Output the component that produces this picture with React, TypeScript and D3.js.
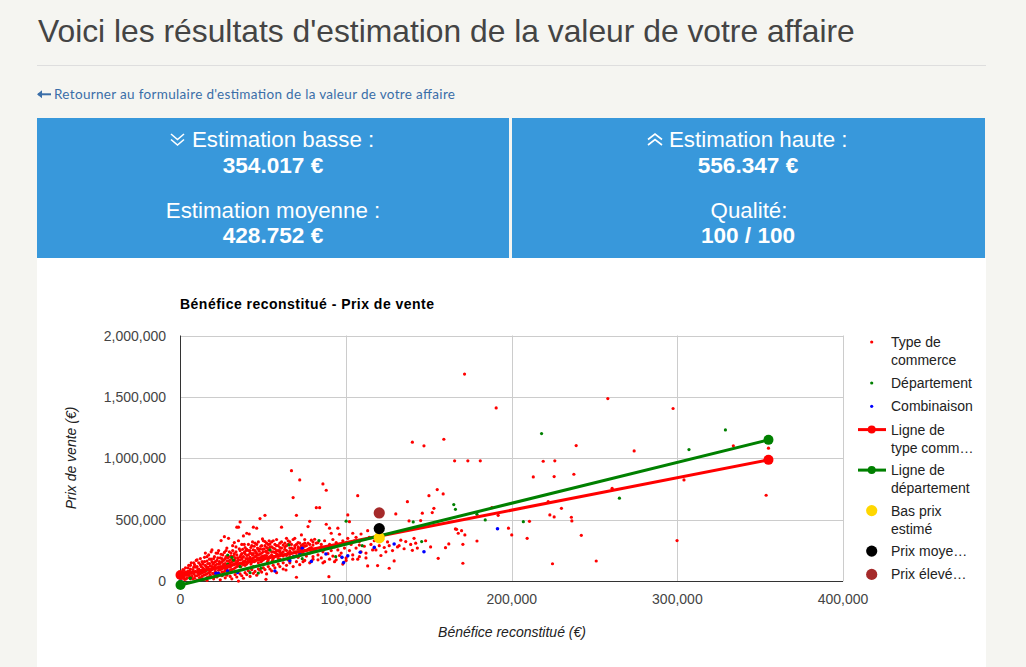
import React from "react";
import * as d3 from "d3";

// ---- data (values in thousands of euros: [bénéfice, prix]) ----
const typeCommerceK: [number, number][] = [
  [0.5,40],[1,25],[1.5,60],[2,90],[2.5,15],[3,50],[3.5,75],[4,30],[4.5,110],[5,55],[5.5,85],[6,20],[6,130],[6.5,65],[7,40],[7.5,95],[8,150],[8,60],[8.5,25],[9,80],[9.5,115],[10,45],[10,175],[10.5,70],[11,100],[11.5,30],[11.8,16],[12,135],[12,60],[12.5,90],[13,160],[13,40],[13.5,110],[14,75],[14.5,195],[15,55],[15,130],[15.5,95],[16,165],[16,30],[16.5,115],[17,70],[17,215],[17.5,145],[18,90],[18,50],[18.5,180],[19,120],[19,255],[19.5,65],[20,100],[20,150],[20.5,200],[21,80],[21,130],[21.5,45],[22,170],[22,110],[22.5,230],[23,90],[23,140],[23.5,60],[24,190],[24,120],[24.5,331],[25,100],[25,160],[25.5,215],[26,75],[26,140],[26.5,363],[27,185],[27,105],[27.5,250],[28,130],[28,165],[28.5,85],[29,350],[29,200],[29.5,145],[30,115],[30,175],[30.5,230],[31,95],[31,155],[31.5,290],[32,135],[32,205],[32.5,315],[33,170],[33,110],[33.5,240],[34,440],[34,150],[34.5,190],[35,440],[35,125],[35,2],[35.5,265],[36,483],[36,175],[36.5,215],[37,145],[37,300],[37.5,195],[38,369],[38,160],[38.5,235],[39,130],[39,275],[39.5,185],[40,391],[40,210],[40.5,150],[41,250],[41,170],[41.5,385],[42,195],[42,230],[42.5,140],[43,290],[43,180],[43.5,215],[44,440],[44,255],[44.5,160],[45,200],[45,310],[45.5,235],[46,432],[46,175],[46.5,270],[47,215],[47,150],[47.5,245],[48,510],[48,190],[48.5,285],[49,230],[49,165],[49.5,260],[50,205],[50,330],[50.5,185],[51,537],[51,323],[51.5,245],[51.6,16],[52,210],[52,275],[52.5,160],[53,300],[53,230],[53.5,195],[54,304],[54,255],[55,215],[55,280],[55.5,170],[56,240],[56,330],[57,200],[57,265],[58,290],[58,225],[59,185],[59,250],[60,275],[60,310],
  [1,45],[1.5,95],[2,35],[2.5,70],[3,110],[3.5,20],[4,55],[4.5,80],[5,130],[5.5,40],[6,100],[6.5,150],[7,75],[7.5,20],[8,115],[8.5,135],[9,45],[9.5,170],[10,120],[10.5,95],
  [11,55],[11,150],[11.5,80],[12,185],[12.5,120],[13,70],[13.5,140],[14,100],[14,50],[14.5,160],[15,80],[15,230],[15.5,120],[16,60],[16,200],[16.5,145],[17,100],[17,35],[17.5,180],[18,125],[18,75],[18.5,240],[19,95],[19,160],[19.5,140],[20,60],[20,185],[20.5,115],
  [21,160],[21,100],[21.5,230],[22,65],[22,140],[22.5,190],[23,115],[23,250],[23.5,160],[24,95],[24,145],[24.5,220],[25,75],[25,185],[25.5,125],[26,110],[26,170],[26.5,235],[27,85],[27,145],[27.5,200],[28,105],[28,270],[28.5,190],[29,120],[29,165],[29.5,240],[30,90],[30,150],[30.5,205],
  [31,130],[31,180],[31.5,250],[32,100],[32,165],[32.5,225],[33,145],[33,190],[33.5,280],[34,120],[34,215],[34.5,165],[35,175],[35,330],[35.5,140],[36,200],[36,250],[36.5,120],[37,180],[37,225],[37.5,260],[38,135],[38,200],[38.5,300],[39,165],[39,225],[39.5,250],[40,140],[40,260],[40.5,185],
  [41,215],[41,300],[41.5,160],[42,250],[42,180],[42.5,275],[43,155],[43,225],[43.5,320],[44,190],[44,225],[44.5,285],[45,165],[45,250],[45.5,205],[46,300],[46,225],[46.5,190],[47,260],[47,320],[47.5,180],[48,220],[48,265],[48.5,160],[49,290],[49,200],[49.5,345],[50,240],[50,175],[50.5,265],
  [51,210],[51,290],[51.5,190],[52,310],[52,235],[52.5,270],[53,175],[53,255],[53.5,330],[54,200],[54,280],[55,240],[55,320],[55.5,205],[56,270],[56,185],[57,300],[57,235],[58,250],[58,340],[59,215],[59,290],[60,235],[60,250],
  [61,270],[61,320],[62,240],[62,205],[63,310],[63,280],[64,250],[64,290],[65,230],[65,330],[66,270],[66,200],[67,300],[67,230],[68,260],[68,340],[69,240],[69,270],[70,300],[70,210],[71,260],[71,280],[72,240],[72,310],[73,290],[73,260],[74,230],[74,275],[75,250],[75,310],[76,290],[77,260],[78,300],[78,270],[79,240],[80,320],[80,260],
  [10,10],[12,25],[14,15],[16,8],[18,30],[20,20],[22,35],[24,12],[25,45],[27,28],[28,50],[30,40],[31,20],[33,55],[34,35],[36,60],[37,45],[38,25],[39,70],[40,55],[41,85],[42,40],[43,95],[44,65],[45,80],[46,50],[47,100],[48,90],[49,75],[50,110],[51,95],[52,60],[53,120],[54,100],[55,85],[56,130],[57,110],[58,70],[59,140],[60,120],[62,100],[64,130],[66,150],[68,120],[70,160],[72,135],[75,170],[78,150],[80,200],[83,175],[86,150],[90,180],[93,160],[96,210],[100,170],[104,180],[108,200],[112,190],
  [60,180],[61,440],[61,230],[62,295],[62,150],[63,260],[63.7,92],[64,350],[64,210],[65,300],[65,175],[66,245],[66,320],[67,900],[67,270],[68,681],[68,200],[69,350],[69,290],[70,33],[70,537],[70,240],[71,315],[71,195],[72,825],[72,270],[73,377],[73,225],[74,300],[74,160],[75,285],[75,340],[76,250],[76,205],[77,445],[77,310],[78,488],[78,230],[79,275],[79,335],[80,180],[80,295],[81,342],[81,255],[82,599],[82,310],[83,315],[83,215],[84,599],[84,270],[85,300],[85,190],[86,792],[86,240],[87,330],[87,160],[88,741],[88,464],[88,280],[89.6,38],[89,225],[90,432],[90,300],[91,391],[91,250],[92,340],[92,205],[93,280],[94,315],[94,175],[95,432],[95,255],[96,383],[96,300],[97,230],[98,330],[98,140],[99,270],[100,310],[100,190],[101,540],[101,350],[102,485],[102,250],[103,300],[104,391],[104,215],[105,330],[106,358],[106,270],[107,697],[107,180],[108,323],[108,295],[109,385],[109,240],[110,340],[111,285],[112,230],[113,412],[113,125],[114,358],[115,300],[116,255],[117,330],[118,255],[119,128],[120,290],[121,210],[122,340],[123,275],[124,240],[125,320],[126,106],[126,290],[128,250],[129,166],[130,548],[131,280],[132,290],[133,335],[135,265],[136,323],[137,648],[138,491],[139,300],[140,252],[140,1132],[141,350],[142,310],[143,270],[145,494],[146,554],[147,1102],[148,330],[150,697],[151,280],[152,559],[153,594],[155,746],[155.6,187],[158.6,711],[159,1156],[160,274],[162,304],[165.5,980],[166,426],[167.7,391],[171.5,1686],[170.5,301],[170.5,147],[166.7,423],[169.7,412],[171.7,377],[173.5,980],[179,328],[181,980],[188,599],[190.6,1411],[191.8,537],[198,432],[200,377],[209.3,350],[210.7,488],[213,849],[219,977],[222,648],[223,540],[224.6,143],[225.6,852],[225.6,524],[226,980],[230,594],[236,521],[236.3,491],[237.5,871],[238.9,1104],[242,374],[251,165],[258,1487],[260.6,757],[273.9,1061],[297.4,1406],[299.8,331],[304,825],[333.8,1102],[353.6,700],[355,1083]
];
const departementK: [number, number][] = [
  [5.7,24],[6,27],[15.8,92],[25.5,51],[28.5,139],[28.5,214],[31,195],[32,173],[36,119],[42,70],[44,119],[47,67],[48.6,106],[54,255],[65.5,296],[73.5,184],[83.6,331],[93.7,200],[100,489],[109.7,290],[140.5,483],[145.6,323],[165,624],[166,586],[179,545],[184,499],[207,485],[218,1202],[265,676],[307,1072],[329,1232]
];
const combinaisonK: [number, number][] = [
  [0,5],[21.4,65],[22.8,65],[28.5,84],[34.5,71],[57,84],[66,168],[68.5,200],[72,222],[73.5,269],[79,162],[87.8,222],[97.5,195],[98.5,152],[101,207],[108.5,236],[117,276],[129,304],[147,241],[191.4,428]
];
const ligneTypeK: [number, number][] = [[0,51],[355,988]];
const ligneDeptK: [number, number][] = [[0,-30],[355,1151]];
const estimX = 120000;
const basPrix = 354017;
const prixMoyen = 428752;
const prixEleve = 556347;
const xTicks = [0, 100000, 200000, 300000, 400000];
const yTicks = [0, 500000, 1000000, 1500000, 2000000];
const legendItems = [
  { lines: ["Type de", "commerce"], kind: "dot", color: "#ff0000" },
  { lines: ["Département"], kind: "dot", color: "#008000" },
  { lines: ["Combinaison"], kind: "dot", color: "#0000ff" },
  { lines: ["Ligne de", "type comm…"], kind: "line", color: "#ff0000" },
  { lines: ["Ligne de", "département"], kind: "line", color: "#008000" },
  { lines: ["Bas prix", "estimé"], kind: "big", color: "#ffd700" },
  { lines: ["Prix moye…"], kind: "big", color: "#000000" },
  { lines: ["Prix élevé…"], kind: "big", color: "#a52a2a" },
];

const K = 1000;
const toE = (a: [number, number][]) => a.map(([x, y]) => [x * K, y * K] as [number, number]);

export default function App() {
  const x = d3.scaleLinear().domain([0, 400000]).range([180.5, 843]);
  const y = d3.scaleLinear().domain([0, 2000000]).range([581.3, 335.5]);
  const fmt = d3.format(",");
  const line = d3.line<[number, number]>().x(d => x(d[0])).y(d => y(d[1]));
  const red = toE(typeCommerceK), green = toE(departementK), blue = toE(combinaisonK);
  const lt = toE(ligneTypeK), ld = toE(ligneDeptK);
  const sans = "'Liberation Sans', Arial, sans-serif";
  const boxBlue = "#3898db";
  const cf = 14;

  let ly = 342;
  const legend = legendItems.map((it, i) => {
    const cy = ly;
    ly += it.lines.length === 2 ? (it.kind === "line" || it.kind === "big" ? 40.5 : 41) : 23.3;
    return (
      <g key={i}>
        {it.kind === "dot" && <circle cx={871.7} cy={cy} r={1.6} fill={it.color} />}
        {it.kind === "line" && (
          <g>
            <line x1={858} x2={886} y1={cy} y2={cy} stroke={it.color} strokeWidth={3} />
            <circle cx={871.7} cy={cy} r={4} fill={it.color} />
          </g>
        )}
        {it.kind === "big" && <circle cx={871.7} cy={cy} r={5.6} fill={it.color} />}
        {it.lines.map((t, j) => (
          <text key={j} x={891} y={cy + 5 + j * 18} fontFamily={sans} fontSize={cf} fill="#222">{t}</text>
        ))}
      </g>
    );
  });

  return (
    <div style={{ position: "absolute", left: 0, top: 0, width: 1026, height: 667, overflow: "hidden" }}>
      <svg width={1026} height={667} style={{ display: "block" }}>
        <rect x={0} y={0} width={1026} height={667} fill="#f5f5f1" />
        <text x={38} y={42} fontFamily={sans} fontSize={31.8} fill="#444">Voici les résultats d'estimation de la valeur de votre affaire</text>
        <rect x={37} y={65} width={949} height={1} fill="#dedede" />
        <path d="M38,94.3 H51" stroke="#3a6ea8" strokeWidth={2} />
        <path d="M37,94.3 L42,90.3 L42,98.3 Z" fill="#3a6ea8" />
        <text x={54} y={98.6} fontFamily="Lato, sans-serif" fontSize={13.5} fill="#3a6ea8" textLength={401} lengthAdjust="spacing">Retourner au formulaire d'estimation de la valeur de votre affaire</text>

        <rect x={37} y={118} width={472} height={140} fill={boxBlue} />
        <rect x={512} y={118} width={473} height={140} fill={boxBlue} />
        <rect x={37} y={258} width={949} height={409} fill="#ffffff" />

        <path d="M171,134 L177.5,139.5 L184,134 M171,139.5 L177.5,145 L184,139.5" stroke="#fff" strokeWidth={1.6} fill="none" />
        <text x={192} y={147.3} fontFamily={sans} fontSize={22.3} fill="#fff">Estimation basse :</text>
        <text x={273} y={173.3} fontFamily={sans} fontSize={22.6} fontWeight="bold" fill="#fff" textAnchor="middle">354.017 €</text>
        <text x={273} y={217.7} fontFamily={sans} fontSize={22.3} fill="#fff" textAnchor="middle">Estimation moyenne :</text>
        <text x={273} y={243.3} fontFamily={sans} fontSize={22.6} fontWeight="bold" fill="#fff" textAnchor="middle">428.752 €</text>

        <path d="M648,139.5 L655,134 L662,139.5 M648,145 L655,139.5 L662,145" stroke="#fff" strokeWidth={1.6} fill="none" />
        <text x={669} y={147.3} fontFamily={sans} fontSize={22.3} fill="#fff">Estimation haute :</text>
        <text x={748} y={173.3} fontFamily={sans} fontSize={22.6} fontWeight="bold" fill="#fff" textAnchor="middle">556.347 €</text>
        <text x={749} y={217.7} fontFamily={sans} fontSize={22.3} fill="#fff" textAnchor="middle">Qualité:</text>
        <text x={748} y={243.3} fontFamily={sans} fontSize={22.6} fontWeight="bold" fill="#fff" textAnchor="middle">100 / 100</text>

        <text x={180} y={309} fontFamily={sans} fontSize={14} fontWeight="bold" fill="#000" textLength={254} lengthAdjust="spacing">Bénéfice reconstitué - Prix de vente</text>

        {/* grid */}
        {xTicks.slice(1).map(t => (
          <line key={"gx" + t} x1={Math.round(x(t)) + 0.5} x2={Math.round(x(t)) + 0.5} y1={y(2000000)} y2={y(0)} stroke="#cccccc" />
        ))}
        {yTicks.slice(1).map(t => (
          <line key={"gy" + t} x1={x(0)} x2={x(400000)} y1={Math.round(y(t)) + 0.5} y2={Math.round(y(t)) + 0.5} stroke="#cccccc" />
        ))}
        <line x1={x(0)} x2={x(0)} y1={y(2000000)} y2={y(0)} stroke="#333" />
        <line x1={x(0)} x2={x(400000)} y1={Math.round(y(0)) + 0.5} y2={Math.round(y(0)) + 0.5} stroke="#333" />
        {yTicks.map(t => (
          <text key={"ty" + t} x={166} y={y(t) + 5} textAnchor="end" fontFamily={sans} fontSize={cf} fill="#444">{fmt(t)}</text>
        ))}
        {xTicks.map(t => (
          <text key={"tx" + t} x={x(t)} y={603.5} textAnchor="middle" fontFamily={sans} fontSize={cf} fill="#444">{fmt(t)}</text>
        ))}
        <text x={512} y={637} textAnchor="middle" fontFamily={sans} fontSize={cf} fontStyle="italic" fill="#222">Bénéfice reconstitué (€)</text>
        <text transform="translate(76,458) rotate(-90)" textAnchor="middle" fontFamily={sans} fontSize={cf} fontStyle="italic" fill="#222">Prix de vente (€)</text>

        {/* data */}
        {red.map((d, i) => <circle key={"r" + i} cx={x(d[0])} cy={y(d[1])} r={1.6} fill="#ff0000" />)}
        {green.map((d, i) => <circle key={"g" + i} cx={x(d[0])} cy={y(d[1])} r={1.6} fill="#008000" />)}
        {blue.map((d, i) => <circle key={"b" + i} cx={x(d[0])} cy={y(d[1])} r={1.8} fill="#0000ff" />)}
        <path d={line(lt) || ""} stroke="#ff0000" strokeWidth={3} fill="none" />
        {lt.map((d, i) => <circle key={"lt" + i} cx={x(d[0])} cy={y(d[1])} r={5} fill="#ff0000" />)}
        <path d={line(ld) || ""} stroke="#008000" strokeWidth={3} fill="none" />
        {ld.map((d, i) => <circle key={"ld" + i} cx={x(d[0])} cy={y(d[1])} r={5} fill="#008000" />)}
        <circle cx={x(estimX)} cy={y(basPrix)} r={5.6} fill="#ffd700" />
        <circle cx={x(estimX)} cy={y(prixMoyen)} r={5.6} fill="#000000" />
        <circle cx={x(estimX)} cy={y(prixEleve)} r={5.6} fill="#a52a2a" />

        {legend}
      </svg>
    </div>
  );
}
